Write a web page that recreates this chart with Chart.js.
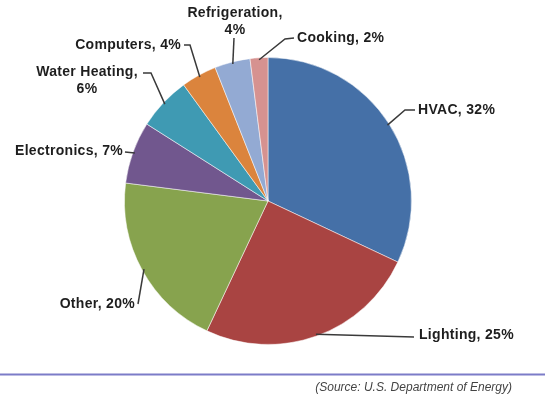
<!DOCTYPE html>
<html lang="en">
<head>
    <meta charset="UTF-8">
    <title>Commercial Building Electricity Use</title>
    <script src="https://cdn.jsdelivr.net/npm/chart.js"></script>
    <style>
        html, body {
            margin: 0;
            padding: 0;
            background: #ffffff;
        }
        .chart-container {
            position: relative;
            width: 545px;
            height: 398px;
        }
    </style>
</head>
<body>
    <div class="chart-container">
        <canvas id="usageChart"></canvas>
    </div>

    <script>
        const categories = ['HVAC', 'Lighting', 'Other', 'Electronics', 'Water Heating', 'Computers', 'Refrigeration', 'Cooking'];
        const shares = [32, 25, 20, 7, 6, 4, 4, 2];
        const sliceColors = ['#4570A7', '#A94442', '#87A34E', '#71578E', '#3F9AB3', '#DB843D', '#93AAD3', '#D69290'];
        const sourceNote = '(Source: U.S. Department of Energy)';

        // label placement per slice: text lines, anchor, alignment and leader elbows
        const labelLayout = [
            { lines: ['HVAC, 32%'], x: 418, y: 110, align: 'left', path: [[405, 110], [415, 110]] },
            { lines: ['Lighting, 25%'], x: 419, y: 335, align: 'left', path: [[414, 337]] },
            { lines: ['Other, 20%'], x: 135, y: 304, align: 'right', path: [[138, 304]] },
            { lines: ['Electronics, 7%'], x: 123, y: 151, align: 'right', path: [[125, 152]] },
            { lines: ['Water Heating,', '6%'], x: 87, y: 72, align: 'center', path: [[151, 73], [143, 73]] },
            { lines: ['Computers, 4%'], x: 181, y: 45, align: 'right', path: [[190, 45], [184, 45]] },
            { lines: ['Refrigeration,', '4%'], x: 235, y: 13, align: 'center', path: [[234, 38]] },
            { lines: ['Cooking, 2%'], x: 297, y: 38, align: 'left', path: [[285, 39], [294, 38]] }
        ];

        const labelsPlugin = {
            id: 'sliceLabels',
            afterDatasetsDraw(chart) {
                const ctx = chart.ctx;
                const arcs = chart.getDatasetMeta(0).data;
                ctx.save();
                arcs.forEach((arc, i) => {
                    const p = arc.getProps(['x', 'y', 'startAngle', 'endAngle', 'outerRadius'], true);
                    const mid = (p.startAngle + p.endAngle) / 2;
                    const ex = p.x + Math.cos(mid) * (p.outerRadius - 2);
                    const ey = p.y + Math.sin(mid) * (p.outerRadius - 2);
                    const lay = labelLayout[i];

                    // leader line
                    ctx.strokeStyle = '#3a3a3a';
                    ctx.lineWidth = 1.5;
                    ctx.beginPath();
                    ctx.moveTo(ex, ey);
                    lay.path.forEach(pt => ctx.lineTo(pt[0], pt[1]));
                    ctx.stroke();

                    // text
                    ctx.fillStyle = '#1e1e1e';
                    ctx.font = 'bold 14px "Liberation Sans", Arial, sans-serif';
                    ctx.letterSpacing = '0.3px';
                    ctx.textAlign = lay.align;
                    ctx.textBaseline = 'middle';
                    lay.lines.forEach((line, k) => {
                        ctx.fillText(line, lay.x, lay.y + k * 17);
                    });
                });

                // separator rule and source note
                ctx.letterSpacing = '0px';
                ctx.strokeStyle = '#7C7CC8';
                ctx.lineWidth = 2;
                ctx.beginPath();
                ctx.moveTo(0, 374.5);
                ctx.lineTo(chart.width, 374.5);
                ctx.stroke();

                ctx.fillStyle = '#444444';
                ctx.font = 'italic 12px "Liberation Sans", Arial, sans-serif';
                ctx.textAlign = 'right';
                ctx.textBaseline = 'middle';
                ctx.fillText(sourceNote, 512, 388);
                ctx.restore();
            }
        };

        const ctx = document.getElementById('usageChart').getContext('2d');
        new Chart(ctx, {
            type: 'pie',
            data: {
                labels: categories,
                datasets: [{
                    data: shares,
                    backgroundColor: sliceColors,
                    borderColor: 'rgba(255, 255, 255, 0.5)',
                    borderWidth: 1
                }]
            },
            options: {
                responsive: true,
                maintainAspectRatio: false,
                animation: false,
                layout: {
                    padding: { left: 124, right: 133, top: 57, bottom: 53 }
                },
                plugins: {
                    legend: { display: false },
                    tooltip: { enabled: false }
                }
            },
            plugins: [labelsPlugin]
        });
    </script>
</body>
</html>
